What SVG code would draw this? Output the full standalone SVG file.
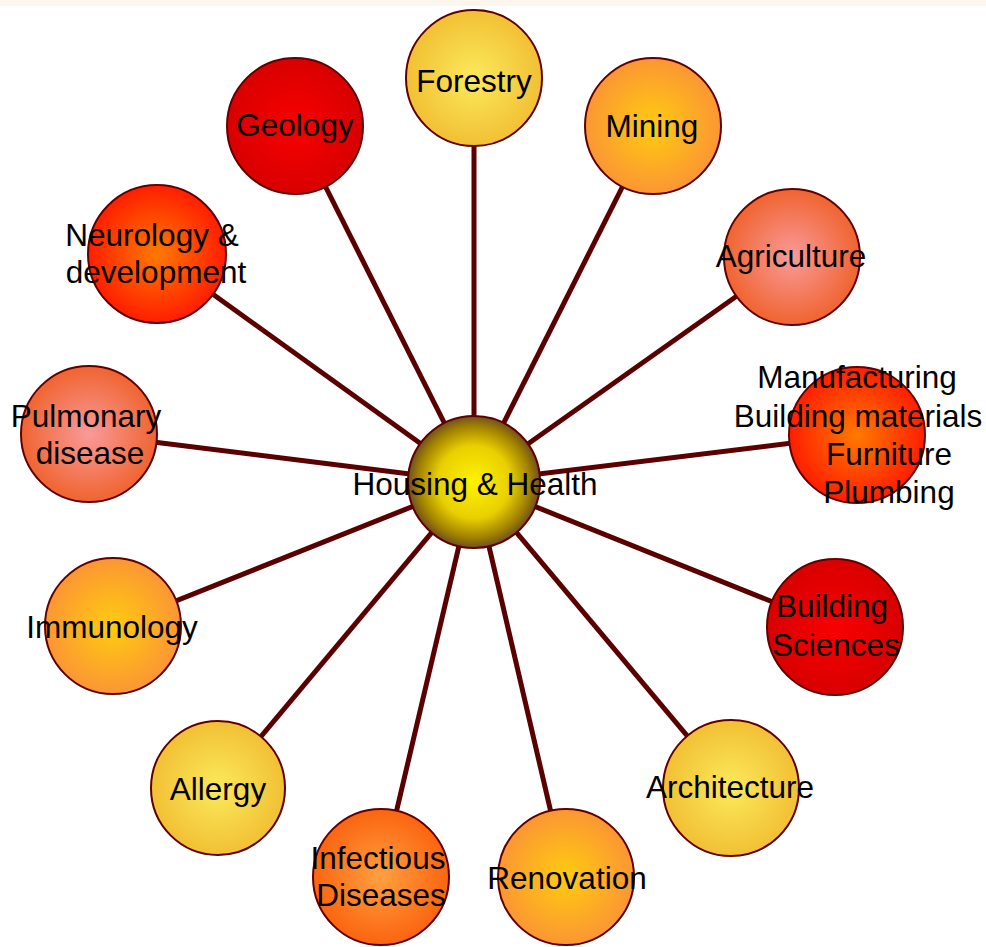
<svg xmlns="http://www.w3.org/2000/svg" width="986" height="947" viewBox="0 0 986 947">
<defs>
<radialGradient id="gYellow" cx="50%" cy="50%" r="50%"><stop offset="0" stop-color="#fbea5c"/><stop offset="1" stop-color="#f2c034"/></radialGradient>
<radialGradient id="gRed" cx="50%" cy="50%" r="50%"><stop offset="0" stop-color="#fa0000"/><stop offset="1" stop-color="#d80000"/></radialGradient>
<radialGradient id="gOrange" cx="50%" cy="50%" r="50%"><stop offset="0" stop-color="#ffcc10"/><stop offset="1" stop-color="#fb9634"/></radialGradient>
<radialGradient id="gPink" cx="50%" cy="50%" r="50%"><stop offset="0" stop-color="#f99a9a"/><stop offset="1" stop-color="#f06430"/></radialGradient>
<radialGradient id="gRedOrange" cx="50%" cy="50%" r="50%"><stop offset="0" stop-color="#ff7a00"/><stop offset="1" stop-color="#ff1e00"/></radialGradient>
<radialGradient id="gDeepOrange" cx="50%" cy="50%" r="50%"><stop offset="0" stop-color="#ffa040"/><stop offset="1" stop-color="#fb6410"/></radialGradient>
<radialGradient id="gCenter" cx="50%" cy="50%" r="50%"><stop offset="0" stop-color="#fff200"/><stop offset="0.55" stop-color="#e8d000"/><stop offset="0.85" stop-color="#a08000"/><stop offset="1" stop-color="#705020"/></radialGradient>
</defs>
<style>
.node circle{stroke:#600000;stroke-width:2}
.node text, text{font-family:"Liberation Sans",Arial,sans-serif;font-size:31.5px;fill:#000;text-anchor:middle}
.conn line{stroke:#5a0000;stroke-width:5}
</style>
<rect x="0" y="0" width="986" height="947" fill="#ffffff"/>
<rect x="0" y="0" width="986" height="6" fill="#fdf6ec"/>
<g id="connectors" class="conn">
<line x1="474" y1="482" x2="474" y2="78"/>
<line x1="474" y1="482" x2="653" y2="126"/>
<line x1="474" y1="482" x2="792" y2="257"/>
<line x1="474" y1="482" x2="857" y2="435"/>
<line x1="474" y1="482" x2="835" y2="627"/>
<line x1="474" y1="482" x2="731" y2="788"/>
<line x1="474" y1="482" x2="566" y2="877"/>
<line x1="474" y1="482" x2="381" y2="877"/>
<line x1="474" y1="482" x2="218" y2="788"/>
<line x1="474" y1="482" x2="113" y2="626"/>
<line x1="474" y1="482" x2="89" y2="434"/>
<line x1="474" y1="482" x2="157" y2="254"/>
<line x1="474" y1="482" x2="295" y2="126"/>
</g>
<g id="forestry" class="node"><circle cx="474" cy="78" r="68" fill="url(#gYellow)"/><text x="474" y="92">Forestry</text></g>
<g id="mining" class="node"><circle cx="653" cy="126" r="68" fill="url(#gOrange)"/><text x="652" y="137">Mining</text></g>
<g id="agriculture" class="node"><circle cx="792" cy="257" r="68" fill="url(#gPink)"/><text x="791" y="267">Agriculture</text></g>
<g id="manufacturing" class="node"><circle cx="857" cy="435" r="68" fill="url(#gRedOrange)"/><text x="857" y="388">Manufacturing</text><text x="858" y="427">Building materials</text><text x="889" y="465">Furniture</text><text x="889" y="503">Plumbing</text></g>
<g id="building-sciences" class="node"><circle cx="835" cy="627" r="68" fill="url(#gRed)"/><text x="832" y="617">Building</text><text x="836" y="656">Sciences</text></g>
<g id="architecture" class="node"><circle cx="731" cy="788" r="68" fill="url(#gYellow)"/><text x="730" y="798">Architecture</text></g>
<g id="renovation" class="node"><circle cx="566" cy="877" r="68" fill="url(#gOrange)"/><text x="567" y="889">Renovation</text></g>
<g id="infectious-diseases" class="node"><circle cx="381" cy="877" r="68" fill="url(#gDeepOrange)"/><text x="378" y="869">Infectious</text><text x="381" y="906">Diseases</text></g>
<g id="allergy" class="node"><circle cx="218" cy="788" r="67" fill="url(#gYellow)"/><text x="218" y="800">Allergy</text></g>
<g id="immunology" class="node"><circle cx="113" cy="626" r="68" fill="url(#gOrange)"/><text x="112" y="638">Immunology</text></g>
<g id="pulmonary-disease" class="node"><circle cx="89" cy="434" r="68" fill="url(#gPink)"/><text x="86" y="427">Pulmonary</text><text x="90" y="464">disease</text></g>
<g id="neurology" class="node"><circle cx="157" cy="254" r="69" fill="url(#gRedOrange)"/><text x="152" y="246">Neurology &amp;</text><text x="156" y="283">development</text></g>
<g id="geology" class="node"><circle cx="295" cy="126" r="68" fill="url(#gRed)"/><text x="295" y="136">Geology</text></g>
<g id="housing-health" class="node"><circle cx="474" cy="482" r="66" fill="url(#gCenter)"/><text x="475" y="495">Housing &amp; Health</text></g>
</svg>
